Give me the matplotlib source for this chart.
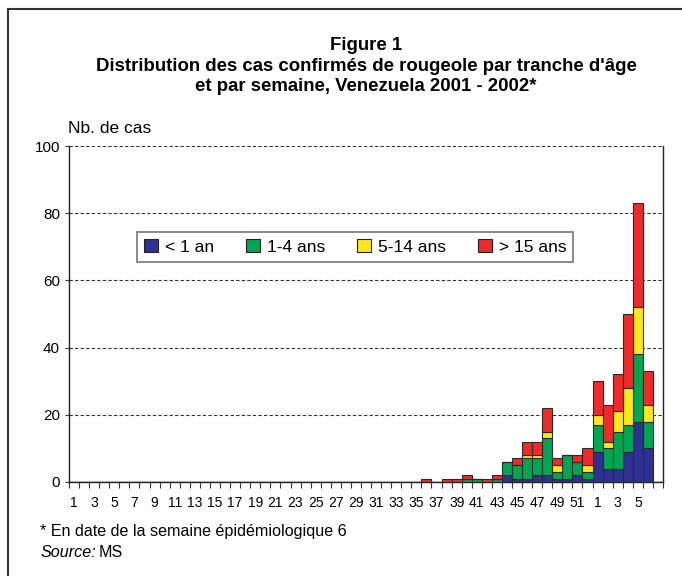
import matplotlib
matplotlib.use("Agg")
import matplotlib.pyplot as plt
from matplotlib.patches import Patch
from matplotlib.lines import Line2D
import numpy as np

plt.rcParams['font.family'] = ['Liberation Sans', 'DejaVu Sans']

# weeks 1-52 of 2001, then 1-7 of 2002 (week 7 not yet reported)
weeks = list(range(1, 53)) + list(range(1, 8))
tick_labels = [str(w) if w % 2 == 1 else '' for w in weeks]
tick_labels[-1] = ''

# cases per week and age group
lt1 = [0, 0, 0, 0, 0, 0, 0, 0, 0, 0, 0, 0, 0, 0, 0, 0, 0, 0, 0, 0,
       0, 0, 0, 0, 0, 0, 0, 0, 0, 0, 0, 0, 0, 0, 0, 0, 0, 0, 0, 0,
       0, 0, 0, 2, 1, 1, 2, 2, 1, 1, 2, 1,
       9, 4, 4, 9, 18, 10, 0]
a1_4 = [0, 0, 0, 0, 0, 0, 0, 0, 0, 0, 0, 0, 0, 0, 0, 0, 0, 0, 0, 0,
        0, 0, 0, 0, 0, 0, 0, 0, 0, 0, 0, 0, 0, 0, 0, 0, 0, 0, 0, 1,
        1, 0, 1, 4, 4, 6, 5, 11, 2, 7, 4, 2,
        8, 6, 11, 8, 20, 8, 0]
a5_14 = [0, 0, 0, 0, 0, 0, 0, 0, 0, 0, 0, 0, 0, 0, 0, 0, 0, 0, 0, 0,
         0, 0, 0, 0, 0, 0, 0, 0, 0, 0, 0, 0, 0, 0, 0, 0, 0, 0, 0, 0,
         0, 0, 0, 0, 0, 1, 1, 2, 2, 0, 0, 2,
         3, 2, 6, 11, 14, 5, 0]
gt15 = [0, 0, 0, 0, 0, 0, 0, 0, 0, 0, 0, 0, 0, 0, 0, 0, 0, 0, 0, 0,
        0, 0, 0, 0, 0, 0, 0, 0, 0, 0, 0, 0, 0, 0, 0, 1, 0, 1, 1, 1,
        0, 1, 1, 0, 2, 4, 4, 7, 2, 0, 2, 5,
        10, 11, 11, 22, 31, 10, 0]

groups = ['< 1 an', '1-4 ans', '5-14 ans', '> 15 ans']
colors = ['#2E3192', '#00A651', '#FFE81A', '#EE2A2A']

fig = plt.figure(figsize=(6.82, 5.76), dpi=100)
ax = fig.add_axes([0.1012, 0.1632, 0.8710, 0.5833])

x = np.arange(len(weeks))
bottom = np.zeros(len(weeks))
for vals, col in zip([lt1, a1_4, a5_14, gt15], colors):
    v = np.array(vals)
    ax.bar(x, v, width=1.0, bottom=bottom, color=col, edgecolor='#2a2a2a', linewidth=0.8, zorder=3)
    bottom += v

ax.set_xlim(-0.5, len(weeks) - 0.5)
ax.set_ylim(0, 100)
ax.set_yticks(range(0, 101, 20))
for yv in range(20, 101, 20):
    ax.axhline(yv, color='#333333', linestyle=(0, (3, 2)), linewidth=0.8, zorder=1)

ax.set_xticks(x)
ax.set_xticklabels(tick_labels, fontsize=10)
ax.tick_params(axis='x', which='major', length=0, pad=10)
ax.set_xticks(np.arange(-0.5, len(weeks), 1.0), minor=True)
ax.tick_params(axis='x', which='minor', length=4, width=0.8, color='#333333', direction='out')
ax.tick_params(axis='y', length=3, width=0.8, labelsize=11, color='#333333')

ax.spines['top'].set_visible(False)
for s in ['left', 'bottom', 'right']:
    ax.spines[s].set_color('#222222')
    ax.spines[s].set_linewidth(1.0)

handles = [Patch(facecolor=c, edgecolor='#222222', linewidth=0.8, label=g) for g, c in zip(groups, colors)]
leg = ax.legend(handles=handles, ncol=4, loc='center', bbox_to_anchor=(0.4815, 0.70),
                fontsize=12.5, frameon=True, fancybox=False, edgecolor='#777777',
                handlelength=0.8, handleheight=0.8, handletextpad=0.4, columnspacing=1.85,
                borderpad=0.4, borderaxespad=0, framealpha=1)
leg.get_frame().set_linewidth(1.2)

fig.text(0.1, 0.777, 'Nb. de cas', fontsize=12.5, ha='left', va='center')

fig.text(0.537, 0.921, 'Figure 1', fontsize=13.4, fontweight='bold', ha='center', va='center')
fig.text(0.537, 0.884, "Distribution des cas confirmés de rougeole par tranche d'âge",
         fontsize=13.4, fontweight='bold', ha='center', va='center')
fig.text(0.537, 0.849, 'et par semaine, Venezuela 2001 - 2002*',
         fontsize=13.4, fontweight='bold', ha='center', va='center')

fig.text(0.059, 0.078, '* En date de la semaine épidémiologique 6', fontsize=11.6, ha='left', va='center')
fig.text(0.059, 0.041, 'Source:', fontsize=11.6, style='italic', ha='left', va='center')
fig.text(0.144, 0.041, 'MS', fontsize=11.6, ha='left', va='center')

# outer frame (left and top edges visible)
fig.add_artist(Line2D([0.012, 0.012], [0.0, 0.984], transform=fig.transFigure, color='#333333', linewidth=1.5))
fig.add_artist(Line2D([0.012, 1.0], [0.984, 0.984], transform=fig.transFigure, color='#333333', linewidth=1.5))

fig.savefig('out.png', dpi=100)
